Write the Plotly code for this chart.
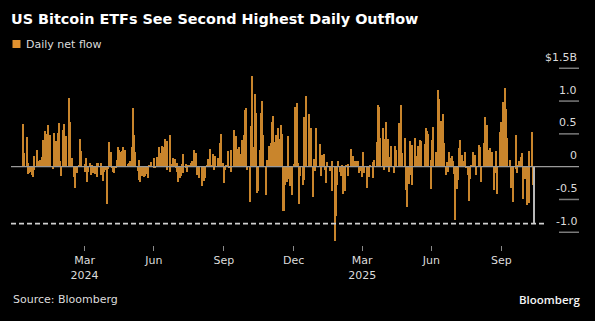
import pandas as pd
import plotly.graph_objects as go

# US spot Bitcoin ETF daily net flows, $ millions, one list per month (trading days)
HOLIDAYS = ["2024-01-15", "2024-02-19", "2024-03-29", "2024-05-27", "2024-06-19",
            "2024-07-04", "2024-09-02", "2024-11-28", "2024-12-25", "2025-01-01",
            "2025-01-09", "2025-01-20", "2025-02-17", "2025-04-18", "2025-05-26",
            "2025-06-19", "2025-07-04", "2025-09-01", "2025-11-27"]
FIRST_DAY = "2024-01-11"
LAST_DAY = "2025-11-13"

flow_2024_01 = [655, 203, 450, 54, -108, -90, -76, -130, -158, -53, 170, 250, 80, 60]
flow_2024_02 = [80, 100, 141, 147, 403, 403, 542, 493, 631, 240, 477, 367, -30, 520, 251, 395, 520, 577, 673, 92]
flow_2024_03 = [-140, 562, 648, 200, 472, 223, 505, 1045, 684, 132, 139, -154, -326, -94, -94, -89, 15, 418, 243, 179]
flow_2024_04 = [-86, 40, 130, -230, -84, 61, 18, -120, 14, -90, -110, -58, -150, 50, 60, 62, -120, -121, -218, -85, -50, -162]
flow_2024_05 = [-564, -30, 378, 217, -15, -10, -80, -90, -20, 100, 303, 257, 222, 241, 305, 10, 107, 253, 45, 28, 49, 88]
flow_2024_06 = [302, 887, 488, 217, 131, -65, -200, 100, -226, -140, -145, -152, -140, -106, -174, 31, 21, 11, 73]
flow_2024_07 = [129, -13, -20, 143, 295, 216, 78, 73, 310, 301, 422, 53, -53, 384, 486, -80, 44, 31, 125, 124, -18, 50]
flow_2024_08 = [-80, -237, -168, -148, 45, 192, -89, -25, 39, -81, 11, 33, 62, 88, 39, 65, 252, 202, -127, -105, -71, -175]
flow_2024_09 = [-288, -37, -211, -169, 28, 117, 39, 39, 263, 12, 187, -52, 158, 93, 4, 136, 106, 365, 494, 61]
flow_2024_10 = [-242, -92, -54, 25, 235, -18, -5, -81, 253, 555, 371, 458, 470, 273, 294, 192, 189, 188, 402, 479, 870, 893, -54]
flow_2024_11 = [-54, -541, -116, 622, 1376, 294, 1114, 817, 511, -400, -371, 255, 816, 773, 1000, 490, -436, -122, 105, 320]
flow_2024_12 = [354, 676, 556, 766, 376, 479, 438, 223, 597, 428, 637, 493, -680, -672, -277, -226, 475, -183, -288, -426, 5]
flow_2025_01 = [39, 908, 978, 52, -568, -149, -284, -209, 755, 626, 1073, 802, 248, 188, 588, -458, 120, -60, 588, 318]
flow_2025_02 = [5, 341, 66, -140, 171, 186, -56, -251, -156, 70, -60, -70, 94, -364, -516, -1138, -754, -276, 94]
flow_2025_03 = [-74, -143, 22, -134, -409, -371, 13, 13, -135, 41, 275, 209, 11, 165, 83, 84, 27, 90, 89, -93, -60]
flow_2025_04 = [-158, 220, -100, -64, -109, -326, -127, -150, 15, 1, 76, -169, 107, 381, 936, 917, 443, 381, 591, 173, -56]
flow_2025_05 = [422, 675, 425, -86, 142, 117, 321, 8, -91, 320, 115, 260, 667, 329, 608, 934, 211, 385, 433, -358, -616]
flow_2025_06 = [-268, 387, -130, -278, 323, 386, 431, 165, 164, 322, 412, 216, 389, 6, 350, 588, 548, 226, 502, 102]
flow_2025_07 = [-342, 408, 602, 217, 80, 218, 1175, 1030, 700, 403, 799, 523, 364, -131, 75, -86, 226, 131, 158, 80, 47, -114]
flow_2025_08 = [-812, -333, -196, 91, 281, 404, 178, 66, 86, 231, -14, -122, -523, -311, -194, 23, 219, 88, 81, 179, -126]
flow_2025_09 = [333, 301, -227, -160, 368, 23, 757, 553, 642, 260, 292, 52, 163, 223, -363, -104, 241, -258, -418, 522, 430]
flow_2025_10 = [676, 628, 985, 1205, 875, 441, 198, -4, 102, -326, -94, -531, -367, -41, 477, -101, 20, 90, 149, 202, -471, -488, -191]
flow_2025_11 = [-187, -578, -137, 240, -558, 1, 524, -278, -867]

months = [
    ("2024-01", flow_2024_01), ("2024-02", flow_2024_02), ("2024-03", flow_2024_03),
    ("2024-04", flow_2024_04), ("2024-05", flow_2024_05), ("2024-06", flow_2024_06),
    ("2024-07", flow_2024_07), ("2024-08", flow_2024_08), ("2024-09", flow_2024_09),
    ("2024-10", flow_2024_10), ("2024-11", flow_2024_11), ("2024-12", flow_2024_12),
    ("2025-01", flow_2025_01), ("2025-02", flow_2025_02), ("2025-03", flow_2025_03),
    ("2025-04", flow_2025_04), ("2025-05", flow_2025_05), ("2025-06", flow_2025_06),
    ("2025-07", flow_2025_07), ("2025-08", flow_2025_08), ("2025-09", flow_2025_09),
    ("2025-10", flow_2025_10), ("2025-11", flow_2025_11),
]

tick_dates = ["2024-04-01", "2024-07-01", "2024-10-01", "2025-01-01",
              "2025-04-01", "2025-07-01", "2025-10-01"]
tick_text = ["Mar<br>2024", "Jun", "Sep", "Dec", "Mar<br>2025", "Jun", "Sep"]
y_tick_vals = [1.5, 1.0, 0.5, 0, -0.5, -1.0]
y_tick_text = ["$1.5B", "1.0", "0.5", "0", "-0.5", "-1.0"]

# ---- assemble series ----
dates, values = [], []
for ym, vals in months:
    start = pd.Timestamp(ym + "-01")
    end = start + pd.offsets.MonthEnd(0)
    start = max(start, pd.Timestamp(FIRST_DAY))
    end = min(end, pd.Timestamp(LAST_DAY))
    days = pd.bdate_range(start, end, freq="C", holidays=HOLIDAYS)
    n = min(len(days), len(vals))
    dates.extend(days[:n])
    values.extend(v / 1000.0 for v in vals[:n])

BAR = "#c9852c"
LAST = "#b8b8b8"
GRID = "#7a7a7a"
TXT = "#dcdcdc"
FONT = "DejaVu Sans"

colors = [BAR] * (len(values) - 1) + [LAST]

fig = go.Figure()
fig.add_trace(go.Bar(
    x=dates, y=values, marker=dict(color=colors, line=dict(width=0)),
    width=86400000 * 1.5, name="Daily net flow", showlegend=False,
))

W, H = 595, 321
L, R, T, B = 11, 48, 60, 76
pw = W - L - R

def px_to_paper_x(px):
    return (px - L) / pw

shapes = []
shapes.append(dict(type="line", xref="paper", yref="y", x0=0, x1=px_to_paper_x(579),
                   y0=0, y1=0, line=dict(color="#9a9a9a", width=1.3), layer="above"))
for v in y_tick_vals:
    if v == 0:
        continue
    shapes.append(dict(type="line", xref="paper", yref="y", x0=px_to_paper_x(559),
                       x1=px_to_paper_x(579), y0=v, y1=v,
                       line=dict(color=GRID, width=1.5)))
shapes.append(dict(type="line", xref="paper", yref="y", x0=0, x1=1,
                   y0=values[-1], y1=values[-1],
                   line=dict(color="#d0d0d0", width=1.8, dash="5px,3px"), layer="above"))
shapes.append(dict(type="rect", xref="paper", yref="paper",
                   x0=px_to_paper_x(12.5), x1=px_to_paper_x(20.5),
                   y0=1 + (T - 48) / (H - T - B), y1=1 + (T - 40) / (H - T - B),
                   fillcolor="#e0902e", line=dict(width=0)))

annotations = []
for v, t in zip(y_tick_vals, y_tick_text):
    annotations.append(dict(xref="paper", yref="y", x=px_to_paper_x(579), y=v,
                            text=t, showarrow=False, xanchor="right", yanchor="middle",
                            yshift=11, font=dict(family=FONT, size=11, color=TXT)))
annotations.append(dict(xref="paper", yref="paper", x=px_to_paper_x(24),
                        y=1 + (T - 44.5) / (H - T - B), text="Daily net flow",
                        showarrow=False, xanchor="left", yanchor="middle",
                        font=dict(family=FONT, size=11, color=TXT)))
annotations.append(dict(xref="paper", yref="paper", x=px_to_paper_x(11),
                        y=-(299 - (H - B)) / (H - T - B), text="Source: Bloomberg",
                        showarrow=False, xanchor="left", yanchor="middle",
                        font=dict(family=FONT, size=11, color=TXT)))
annotations.append(dict(xref="paper", yref="paper", x=px_to_paper_x(583),
                        y=-(299 - (H - B)) / (H - T - B), text="Bloomberg",
                        showarrow=False, xanchor="right", yanchor="middle",
                        font=dict(family="Open Sans", size=11.5, color="#f4f4f4",
                                  weight=600)))

fig.update_layout(
    width=W, height=H,
    margin=dict(l=L, r=R, t=T, b=B, pad=0),
    paper_bgcolor="black", plot_bgcolor="black",
    bargap=0,
    title=dict(text="<b>US Bitcoin ETFs See Second Highest Daily Outflow</b>",
               x=L / W, xanchor="left", y=1 - 18.5 / H, yanchor="middle",
               font=dict(family=FONT, size=14.4, color="#ffffff")),
    xaxis=dict(type="date", range=["2023-12-26 05:00", "2025-11-30 02:00"],
               tickvals=tick_dates, ticktext=tick_text, ticks="outside", ticklen=5,
               tickcolor="#8a8a8a", tickwidth=1, showgrid=False, showline=False,
               zeroline=False, tickfont=dict(family=FONT, size=11, color=TXT)),
    yaxis=dict(range=[-1.194, 1.626], showgrid=False, zeroline=False,
               showticklabels=False, ticks="", showline=False),
    shapes=shapes, annotations=annotations,
)

fig.write_html("out.html")
